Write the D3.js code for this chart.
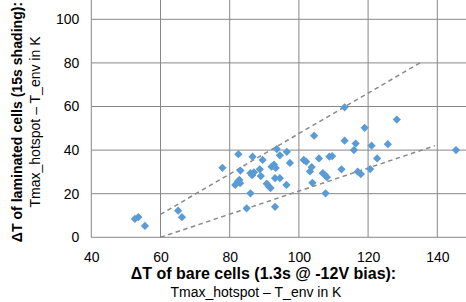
<!DOCTYPE html>
<html>
<head>
<meta charset="utf-8">
<script src="https://cdn.jsdelivr.net/npm/d3@7"></script>
<style>
  body { margin: 0; background: #fff; }
  svg { display: block; font-family: "Liberation Sans", Arial, sans-serif; }
</style>
</head>
<body>
<svg id="chart" width="466" height="302"></svg>
<script>
// bare-cell dT (x) vs laminated-cell dT (y)
const bareDT = [
  52.6, 53.6, 55.5, 65.1, 66.2, 77.9, 82.5, 83.1, 81.6, 82.3, 83.0, 82.8,
  84.9, 86.0, 86.6, 86.0, 86.5, 87.0, 88.7, 89.0, 89.5, 90.7, 91.3, 91.8,
  92.1, 92.8, 93.3, 93.1, 94.5, 93.1, 93.6, 94.5, 96.5, 97.4, 96.4, 101.4,
  102.1, 103.2, 103.7, 103.9, 104.4, 105.8, 106.9, 107.5, 108.1, 107.7, 108.8, 109.6,
  112.3, 113.2, 113.2, 115.9, 116.4, 117.0, 117.9, 119.0, 120.6, 121.0, 122.6, 125.7,
  128.3, 145.4
];
const laminatedDT = [
  8.4, 9.3, 5.2, 12.2, 9.2, 31.9, 38.1, 30.6, 24.0, 25.5, 24.8, 26.3,
  13.3, 20.2, 37.0, 29.4, 28.5, 29.8, 31.2, 28.1, 35.5, 24.6, 23.4, 22.6,
  32.4, 33.3, 31.8, 27.1, 27.1, 14.0, 40.5, 37.6, 39.2, 34.1, 24.0, 35.5,
  34.7, 30.2, 32.2, 25.0, 46.6, 36.2, 29.4, 28.6, 27.6, 20.2, 37.0, 37.2,
  31.2, 59.6, 44.3, 40.0, 43.0, 30.1, 29.0, 50.2, 31.3, 42.0, 36.2, 42.7,
  54.0, 40.0
];

// dashed bounding lines (start and end points)
const upperLine = [[60, 10.5], [135.3, 80.3]];
const lowerLine = [[60, 0], [139.3, 42]];

const xTicks = [40, 60, 80, 100, 120, 140];
const yTicks = [0, 20, 40, 60, 80, 100];

const svg = d3.select("#chart");

const x = d3.scaleLinear().domain([40, 160]).range([91.3, 506.5]);
const y = d3.scaleLinear().domain([0, 110]).range([237.3, -2.5]);

const grid = svg.append("g").attr("stroke", "#878787").attr("stroke-width", 1);

grid.selectAll(".vline")
  .data(d3.range(40, 161, 20))
  .enter()
  .append("line")
  .attr("x1", (d) => x(d))
  .attr("x2", (d) => x(d))
  .attr("y1", y(0))
  .attr("y2", y(110));

grid.selectAll(".hline")
  .data(d3.range(0, 111, 20))
  .enter()
  .append("line")
  .attr("x1", x(40))
  .attr("x2", x(160))
  .attr("y1", (d) => y(d))
  .attr("y2", (d) => y(d));

// axis labels via d3 axes, without domain or ticks
const xAxis = svg.append("g")
  .attr("transform", `translate(0,${y(0)})`)
  .call(d3.axisBottom(x).tickValues(xTicks).tickSize(0).tickPadding(15));
const yAxis = svg.append("g")
  .attr("transform", `translate(${x(40)},0)`)
  .call(d3.axisLeft(y).tickValues(yTicks).tickSize(0).tickPadding(12));

[xAxis, yAxis].forEach((g) => {
  g.select(".domain").remove();
  g.selectAll("text")
    .attr("fill", "#000")
    .style("font-size", "14px")
    .style("font-family", "'Liberation Sans', Arial, sans-serif");
});

const line = d3.line().x((d) => x(d[0])).y((d) => y(d[1]));

svg.selectAll(".trend")
  .data([upperLine, lowerLine])
  .enter()
  .append("path")
  .attr("d", line)
  .attr("fill", "none")
  .attr("stroke", "#8a8a8a")
  .attr("stroke-width", 1.5)
  .attr("stroke-dasharray", "4.5,3.5");

const diamond = d3.symbol().type(d3.symbolSquare).size(34);

svg.append("g")
  .selectAll("path")
  .data(bareDT.map((v, i) => [v, laminatedDT[i]]))
  .enter()
  .append("path")
  .attr("d", diamond)
  .attr("transform", (d) => `translate(${x(d[0])},${y(d[1])}) rotate(45)`)
  .attr("fill", "#5b9bd5");

// axis titles
const xTitle = svg.append("text")
  .attr("text-anchor", "middle");
xTitle.append("tspan").attr("x", 263.5).attr("y", 279)
  .style("font-weight", "bold")
  .style("font-size", "16px")
  .text("ΔT of bare cells (1.3s @ -12V bias):");
xTitle.append("tspan").attr("x", 256).attr("y", 297)
  .style("font-size", "14px")
  .text("Tmax_hotspot – T_env in K");

const yTitle = svg.append("text")
  .attr("transform", "translate(0,122) rotate(-90)")
  .attr("text-anchor", "middle");
yTitle.append("tspan").attr("x", 0).attr("y", 22)
  .style("font-weight", "bold")
  .style("font-size", "14.1px")
  .text("ΔT of laminated cells (15s shading):");
yTitle.append("tspan").attr("x", 0).attr("y", 40)
  .style("font-size", "14px")
  .text("Tmax_hotspot – T_env in K");
</script>
</body>
</html>
